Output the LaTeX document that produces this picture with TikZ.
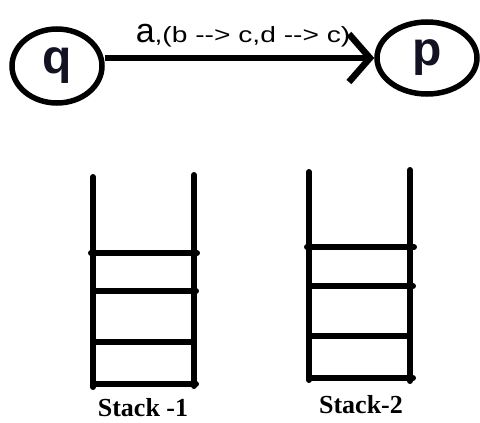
\documentclass[tikz,border=0pt]{standalone}
\usepackage{fontspec}
\setmainfont{Liberation Serif}
\setsansfont{Liberation Sans}
\usetikzlibrary{arrows.meta,shapes.geometric}
\definecolor{ink}{RGB}{18,18,34}
\begin{document}
\begin{tikzpicture}[x=1pt,y=-1pt,
  statenode/.style={ellipse, draw=black, line width=5.5pt, inner sep=0pt,
    font=\sffamily\bfseries\fontsize{48}{48}\selectfont, text=ink},
  trans/.style={line width=6.5pt, -{Straight Barb[length=21pt,width=48pt]}},
  stackline/.style={line width=6pt, line cap=round},
  stacklabel/.style={font=\rmfamily\bfseries\fontsize{26}{26}\selectfont, anchor=base, inner sep=0pt},
  edgelabel/.style={font=\sffamily\fontsize{22}{22}\selectfont, anchor=base, inner sep=0pt}]
\useasboundingbox (0,0) rectangle (480,423);

% states
\node[statenode, minimum width=90pt, minimum height=74pt] (q) at (57,66) {q};
\node[statenode, minimum width=100pt, minimum height=72pt] (p) at (427,58) {p};

% transition
\draw[trans] (q.east |- p.west) -- (p.west);
\node[edgelabel] (lbl) at (243,42)
  {{\fontsize{34}{34}\selectfont a}\scalebox{1.28}[1]{,(b -{}-{}> c,d -{}-{}> c)}};

% stack 1
\draw[stackline] (93,177) -- (93,387);
\draw[stackline] (194,175) -- (194,386);
\draw[stackline] (91,253) -- (197,253);
\draw[stackline] (93,291) -- (196,291);
\draw[stackline] (95,342) -- (194,342);
\draw[stackline] (93,384) -- (196,384);
\node[stacklabel] (s1) at (143,416) {Stack -1};

% stack 2
\draw[stackline] (309,172) -- (309,380);
\draw[stackline] (410,170) -- (410,381);
\draw[stackline] (307,247) -- (414,247);
\draw[stackline] (311,286) -- (413,286);
\draw[stackline] (311,336) -- (409,336);
\draw[stackline] (309,378) -- (413,378);
\node[stacklabel] (s2) at (361,413) {Stack-2};
\end{tikzpicture}
\end{document}
